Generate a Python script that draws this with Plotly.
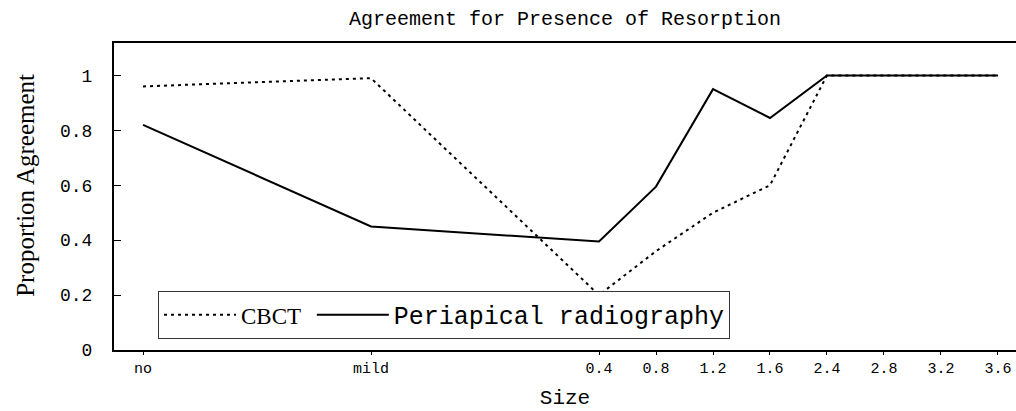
import plotly.graph_objects as go

# ---- data ----
size_labels = ["no", "mild", "0.4", "0.8", "1.2", "1.6", "2.4", "2.8", "3.2", "3.6"]
cbct = [0.96, 0.99, 0.20, 0.36, 0.50, 0.60, 1.00, 1.00, 1.00, 1.00]
periapical = [0.82, 0.45, 0.395, 0.595, 0.95, 0.845, 1.00, 1.00, 1.00, 1.00]
y_ticks = [0, 0.2, 0.4, 0.6, 0.8, 1]

# axis slots: "no" and "mild" are spaced four slots apart, sizes one slot apart
slot = []
pos = 0
for i, lab in enumerate(size_labels):
    slot.append(pos)
    pos += 4 if i < 2 else 1

mono = "Liberation Mono"
serif = "Liberation Serif"

fig = go.Figure()
fig.add_trace(go.Scatter(
    x=slot, y=cbct, mode="lines",
    name='<span style="font-family:Liberation Serif;font-size:23px">CBCT\u00a0</span>',
    line=dict(color="black", width=2, dash="3px,4px"),
))
fig.add_trace(go.Scatter(
    x=slot, y=periapical, mode="lines",
    name="Periapical radiography",
    line=dict(color="black", width=2),
))

fig.update_layout(
    width=1016, height=411,
    margin=dict(l=114, r=0, t=43, b=61),
    paper_bgcolor="white", plot_bgcolor="white",
    showlegend=True,
    title=dict(text="Agreement for Presence of Resorption",
               x=0.5, xref="paper", xanchor="center",
               y=0.957, yref="container", yanchor="middle",
               font=dict(family=mono, size=20, color="black")),
    legend=dict(orientation="h", x=0.0488, y=0.036, xanchor="left", yanchor="bottom",
                bordercolor="#333", borderwidth=1, bgcolor="white",
                font=dict(family=mono, size=25, color="black"),
                itemwidth=72, tracegroupgap=0),
    font=dict(family=mono, color="black"),
)

fig.update_xaxes(
    range=[-0.509, 15.316],
    tickmode="array", tickvals=slot, ticktext=size_labels,
    ticks="outside", ticklen=3, tickwidth=1, tickcolor="black",
    tickfont=dict(family=mono, size=15, color="black"),
    showline=True, linecolor="black", linewidth=2, mirror=True,
    showgrid=False, zeroline=False,
    title=dict(text="Size", font=dict(family=mono, size=21, color="black"), standoff=12),
)
fig.update_yaxes(
    range=[0, 1.118],
    tickmode="array", tickvals=y_ticks, ticktext=[f"{v:g}" for v in y_ticks],
    ticks="inside", ticklen=7, tickwidth=1, tickcolor="black",
    tickfont=dict(family=mono, size=18, color="black"),
    ticklabelstandoff=16,
    showline=True, linecolor="black", linewidth=2, mirror=False,
    showgrid=False, zeroline=False,
)

fig.add_annotation(
    text="Proportion Agreement", textangle=-90,
    xref="paper", yref="paper", x=-0.099, y=0.537,
    xanchor="center", yanchor="middle", showarrow=False,
    font=dict(family=serif, size=25, color="black"),
)

fig.write_html("out.html", config={"displayModeBar": False},
               post_script="document.body.style.margin='0';")
